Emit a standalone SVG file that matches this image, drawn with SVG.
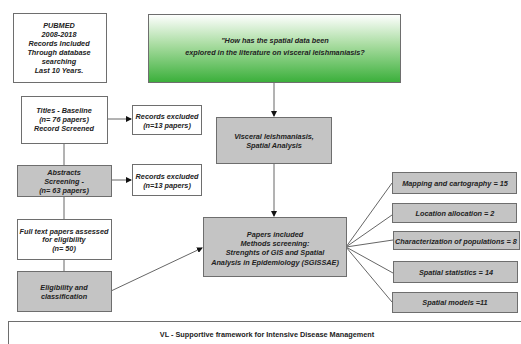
<svg xmlns="http://www.w3.org/2000/svg" width="521" height="344" viewBox="0 0 521 344">
<defs>
<linearGradient id="g" x1="0" y1="0" x2="0" y2="1">
<stop offset="0" stop-color="#ffffff"/>
<stop offset="0.45" stop-color="#a8dca0"/>
<stop offset="1" stop-color="#3aaf3a"/>
</linearGradient>
<marker id="a" markerWidth="6" markerHeight="6" refX="5" refY="3" orient="auto" markerUnits="userSpaceOnUse">
<path d="M0,0 L6,3 L0,6 Z" fill="#111"/>
</marker>
<style>
.b{fill:#fff;stroke:#6e6e6e;stroke-width:1}
.gr{fill:#c4c4c4;stroke:#6e6e6e;stroke-width:1}
.t{font-family:"Liberation Sans",Arial,sans-serif;font-size:7.3px;font-weight:bold;font-style:italic;fill:#222;text-anchor:middle}
.n{font-family:"Liberation Sans",Arial,sans-serif;font-size:7.3px;font-weight:bold;fill:#222;text-anchor:middle}
.c{stroke:#666;stroke-width:1;fill:none}
</style>
</defs>
<rect width="521" height="344" fill="#fff"/>
<g id="connectors">
<line class="c" x1="274" y1="83" x2="274" y2="116" marker-end="url(#a)"/>
<line class="c" x1="274" y1="163" x2="274" y2="216" marker-end="url(#a)"/>
<line class="c" x1="107" y1="119" x2="131" y2="119" marker-end="url(#a)"/>
<line class="c" x1="111" y1="180" x2="131" y2="180" marker-end="url(#a)"/>
<line class="c" x1="64" y1="144" x2="64" y2="165"/>
<line class="c" x1="64" y1="196" x2="64" y2="219"/>
<line class="c" x1="64" y1="259" x2="64" y2="271"/>
<line class="c" x1="111" y1="291" x2="202" y2="248" marker-end="url(#a)"/>
<line class="c" x1="346" y1="247" x2="392" y2="183"/>
<line class="c" x1="346" y1="247" x2="392" y2="215"/>
<line class="c" x1="346" y1="247" x2="393" y2="240"/>
<line class="c" x1="346" y1="247" x2="393" y2="273"/>
<line class="c" x1="346" y1="247" x2="392" y2="302"/>
</g>
<g id="pubmed">
<rect class="b" x="13.5" y="13.5" width="93" height="69"/>
<text class="t" x="59" y="28">PUBMED</text>
<text class="t" x="59" y="37">2008-2018</text>
<text class="t" x="59" y="46">Records Included</text>
<text class="t" x="59" y="55">Through database</text>
<text class="t" x="59" y="64">searching</text>
<text class="t" x="59" y="73">Last 10 Years.</text>
</g>
<g id="question">
<rect x="148.5" y="14.5" width="252" height="68" fill="url(#g)" stroke="#6e6e6e"/>
<text class="t" x="275" y="43">"How has the spatial data been</text>
<text class="t" x="275" y="55">explored in the literature on visceral leishmaniasis?</text>
</g>
<g id="titles">
<rect class="b" x="21.5" y="96.5" width="86" height="47"/>
<text class="t" x="64" y="113">Titles - Baseline</text>
<text class="t" x="64" y="122">(n= 76 papers)</text>
<text class="t" x="64" y="131">Record Screened</text>
</g>
<g id="excluded1">
<rect class="b" x="132.5" y="105.5" width="69" height="29"/>
<text class="t" x="167" y="119">Records excluded</text>
<text class="t" x="167" y="128">(n=13 papers)</text>
</g>
<g id="abstracts">
<rect class="gr" x="17.5" y="165.5" width="94" height="31"/>
<text class="t" x="64" y="175">Abstracts</text>
<text class="t" x="64" y="184">Screening -</text>
<text class="t" x="64" y="193">(n= 63 papers)</text>
</g>
<g id="excluded2">
<rect class="b" x="132.5" y="164.5" width="69" height="31"/>
<text class="t" x="167" y="179">Records excluded</text>
<text class="t" x="167" y="188">(n=13 papers)</text>
</g>
<g id="fulltext">
<rect class="b" x="17.5" y="219.5" width="94" height="40"/>
<text class="t" x="64" y="234">Full text papers assessed</text>
<text class="t" x="64" y="242">for eligibility</text>
<text class="t" x="64" y="251">(n= 50)</text>
</g>
<g id="eligibility">
<rect class="gr" x="17.5" y="271.5" width="94" height="40"/>
<text class="t" x="64" y="290">Eligibility and</text>
<text class="t" x="64" y="299">classification</text>
</g>
<g id="visceral">
<rect class="gr" x="216.5" y="117.5" width="115" height="46"/>
<text class="t" x="274" y="139">Visceral leishmaniasis,</text>
<text class="t" x="274" y="148">Spatial Analysis</text>
</g>
<g id="papers">
<rect class="gr" x="203.5" y="217.5" width="143" height="59"/>
<text class="t" x="275" y="237">Papers included</text>
<text class="t" x="275" y="246">Methods screening:</text>
<text class="t" x="275" y="255">Strenghts of GIS and Spatial</text>
<text class="t" x="275" y="265">Analysis in Epidemiology (SGISSAE)</text>
</g>
<g id="mapping">
<rect class="gr" x="392.5" y="172.5" width="124" height="21"/>
<text class="t" x="455" y="186">Mapping and cartography = 15</text>
</g>
<g id="location">
<rect class="gr" x="392.5" y="203.5" width="124" height="19"/>
<text class="t" x="455" y="216">Location allocation = 2</text>
</g>
<g id="characterization">
<rect class="gr" x="393.5" y="231.5" width="126" height="18"/>
<text class="t" x="456" y="244">Characterization of populations = 8</text>
</g>
<g id="statistics">
<rect class="gr" x="393.5" y="261.5" width="124" height="21"/>
<text class="t" x="456" y="275">Spatial statistics = 14</text>
</g>
<g id="models">
<rect class="gr" x="392.5" y="292.5" width="125" height="20"/>
<text class="t" x="455" y="305">Spatial models =11</text>
</g>
<g id="framework">
<rect class="b" x="8.5" y="321.5" width="520" height="30"/>
<text class="n" x="267" y="337">VL - Supportive framework for Intensive Disease Management</text>
</g>
</svg>
